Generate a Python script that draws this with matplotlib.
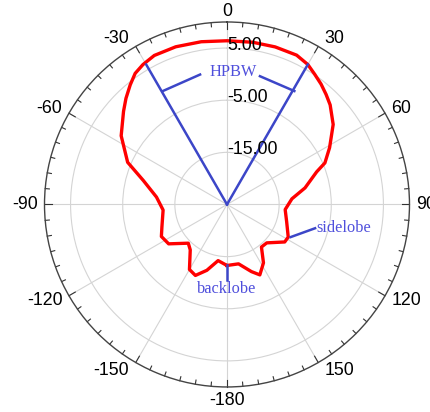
import numpy as np
import matplotlib
matplotlib.use('Agg')
import matplotlib.pyplot as plt

# radiation pattern: angle (deg, clockwise from top) and gain (dB)
angles_deg = [-180, -171, -163, -156, -150, -141, -135, -124, -116, -109, -95, -84,
              -74, -67, -57, -48, -43.6, -39, -35, -31, -26, -18, -9, 0, 9, 17, 25, 30,
              34, 38, 42, 46, 53, 61, 67, 70, 78, 85, 95, 106, 118, 123, 134, 141, 148,
              155, 160, 169, 180]
gain_db = [-13.3, -14.1, -11.8, -10.1, -10.6, -13.8, -14.5, -11.5, -11.0, -11.8, -12.7, -11.4,
           -8.3, -4.3, -0.8, 1.7, 3.1, 4.5, 5.7, 6.3, 6.8, 6.8, 6.6, 6.4, 6.5, 6.6, 6.6, 6.0,
           5.1, 4.3, 3.4, 2.5, 0.5, -2.5, -4.6, -6.7, -9.7, -12.5, -13.8, -13.1, -11.7, -11.8,
           -14.4, -14.5, -11.8, -10.1, -11.3, -13.4, -13.3]

ring_values = [-15, -5, 5]
ring_labels = ['-15.00', '-5.00', '5.00']
theta_ticks = [0, 30, 60, 90, 120, 150, 180, 210, 240, 270, 300, 330]
theta_labels = ['0', '30', '60', '90', '120', '150', '-180', '-150', '-120', '-90', '-60', '-30']

# annotation points (deg, dB)
hpbw_edges = [-30, 30]
hpbw_top = 6.0
hpbw_left_arc = ([-29.6, -11.7], [0.0, 0.45])
hpbw_right_arc = ([14.4, 30.7], [0.4, 0.3])
hpbw_text_pos = (2.6, 0.45)
side_line = ([117.2, 105.1], [-11.3, -7.5])
side_text_pos = (104.7, -7.2)
back_line = ([180, 180], [-13.3, -10.5])
back_text_pos = (180, -8.8)

blue = '#3c46c8'
text_blue = '#4f4fdc'
sans = 'Liberation Sans'
serif = 'Liberation Serif'
rmin, rmax = -25, 10

fig = plt.figure(figsize=(4.30, 4.12), dpi=100)
ax = fig.add_axes([0.1035, 0.0607, 0.8488, 0.886], projection='polar')
ax.set_theta_zero_location('N')
ax.set_theta_direction(-1)
ax.set_ylim(rmin, rmax)

ax.set_xticks(np.radians(theta_ticks))
ax.set_xticklabels([])
ax.tick_params(axis='x', which='major', length=0)
ax.set_yticks(ring_values)
ax.set_yticklabels([])
ax.grid(True, color='#d4d4d4', linewidth=0.8)
ax.spines['polar'].set_color('#444444')
ax.spines['polar'].set_linewidth(1.0)

# angle labels outside the circle, aligned away from it
for a, lab in zip(theta_ticks, theta_labels):
    s, c = np.sin(np.radians(a)), np.cos(np.radians(a))
    if abs(s) < 0.01:
        ha, dx, dy = 'center', 0, (10.5 if c > 0 else -13.5)
    else:
        ha = 'left' if s > 0 else 'right'
        dx, dy = (6.5 if s > 0 else -6.5), 9 * c
    ax.annotate(lab, xy=(np.radians(a), rmax), xytext=(dx, dy), textcoords='offset pixels',
                ha=ha, va='center', fontsize=12.8, fontfamily=sans, annotation_clip=False)

# inward tick marks on the outer circle: long every 30 deg, short every 5 deg
for a in np.arange(0, 360, 5):
    tlen = 1.4 if a % 30 == 0 else 0.8
    ax.plot(np.radians([a, a]), [rmax, rmax - tlen], color='#333333',
            linewidth=0.8, zorder=2, clip_on=False)

ax.plot(np.radians(angles_deg), gain_db, color='red', linewidth=2.4, zorder=3,
        solid_joinstyle='round')

for v, lab in zip(ring_values, ring_labels):
    ax.text(0, v - 0.35, lab, ha='left', va='baseline', fontsize=12.8,
            fontfamily=sans, color='black', zorder=5)

# HPBW
for a in hpbw_edges:
    ax.plot(np.radians([0, a]), [rmin, hpbw_top], color=blue, linewidth=1.8, zorder=4)
for th, rr in (hpbw_left_arc, hpbw_right_arc):
    ax.plot(np.radians(th), rr, color=blue, linewidth=1.8, zorder=4)
ax.text(np.radians(hpbw_text_pos[0]), hpbw_text_pos[1], 'HPBW', ha='center', va='center',
        fontsize=11.8, fontfamily=serif, color=text_blue, zorder=5)

# sidelobe / backlobe
ax.plot(np.radians(side_line[0]), side_line[1], color=blue, linewidth=1.8, zorder=4)
ax.text(np.radians(side_text_pos[0]), side_text_pos[1], 'sidelobe', ha='left', va='center',
        fontsize=11.8, fontfamily=serif, color=text_blue, zorder=5)
ax.plot(np.radians(back_line[0]), back_line[1], color=blue, linewidth=1.8, zorder=4)
ax.text(np.radians(back_text_pos[0]), back_text_pos[1], 'backlobe', ha='center', va='center',
        fontsize=11.8, fontfamily=serif, color=text_blue, zorder=5)

fig.savefig('out.png', dpi=100)
